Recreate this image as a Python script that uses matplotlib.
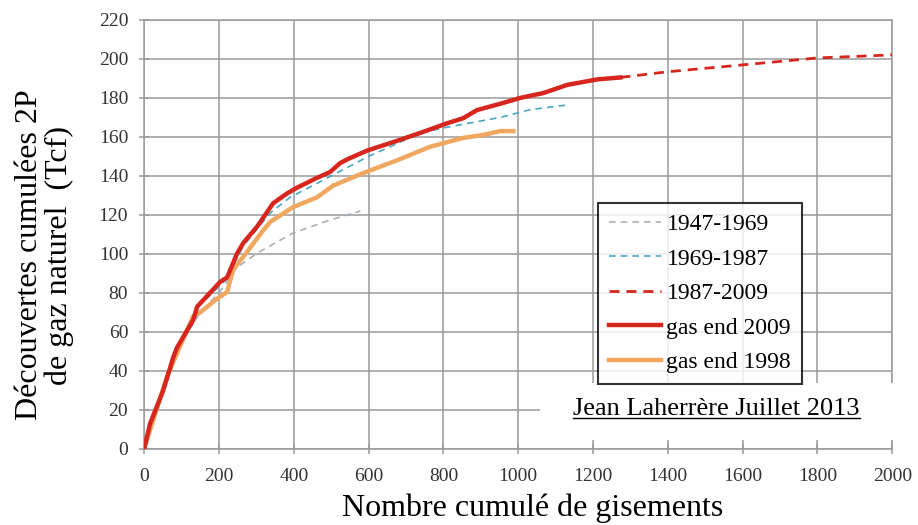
import matplotlib
matplotlib.use("Agg")
import matplotlib.pyplot as plt
from matplotlib.lines import Line2D
from matplotlib.patches import Rectangle

# cumulative discoveries (Tcf) vs cumulative number of fields
gas2009_x = [0, 16, 51, 78, 88, 131, 142, 176, 203, 222, 248, 265, 302, 345, 382, 409,
             462, 497, 524, 543, 596, 676, 746, 810, 853, 890, 952, 1005, 1067, 1131, 1211, 1273]
gas2009_y = [0, 13, 30, 47, 52, 66, 73, 80, 85.6, 88, 100, 105.6, 114, 126, 131, 134,
             139, 142, 146.6, 148.5, 153, 158, 162.6, 167, 169.6, 173.8, 177, 180, 182.5, 186.7, 189.5, 190.5]

gas1998_x = [0, 61, 88, 131, 150, 195, 222, 238, 265, 318, 337, 398, 462, 505, 586,
             676, 765, 853, 906, 952, 987]
gas1998_y = [0, 37, 49, 68, 70, 77, 80.5, 92, 98.5, 112, 116.4, 124, 129, 135, 141.5,
             148, 155, 159.5, 161, 163, 163]

fit4769_x = [0, 50, 100, 150, 200, 248, 302, 398, 497, 578]
fit4769_y = [0, 28, 55, 70, 80, 93, 100.4, 110.7, 117.4, 122]

fit6987_x = [0, 80, 140, 220, 265, 337, 390, 500, 600, 738, 810, 952, 1032, 1131]
fit6987_y = [0, 47, 72, 87, 104, 121, 129, 140, 150, 162, 165, 170, 174, 176.4]

fit8709_x = [1273, 1398, 1602, 1799, 1989, 2000]
fit8709_y = [190.5, 193.4, 197, 200.5, 202, 202.2]

xticks = list(range(0, 2001, 200))
yticks = list(range(0, 221, 20))

serif = ["Liberation Serif", "DejaVu Serif"]
plt.rcParams["font.family"] = serif

fig = plt.figure(figsize=(9.18, 5.25), dpi=100)
ax = fig.add_axes([0.157, 0.145, 0.815, 0.817])

grid_col = "#9a9a9a"
ax.plot(fit4769_x, fit4769_y, ls=(0, (4, 3)), color="#a8b0b8", lw=1.2, label="1947-1969", zorder=3)
ax.plot(fit6987_x, fit6987_y, ls=(0, (4, 3)), color="#4aa8c0", lw=1.2, label="1969-1987", zorder=3)
ax.plot(fit8709_x, fit8709_y, ls=(0, (3.6, 2.5)), color="#d7261e", lw=2.0, label="1987-2009", zorder=4)
ax.plot(gas2009_x, gas2009_y, color="#d7261e", lw=3.2, label="gas end 2009", zorder=5,
        solid_joinstyle="round")
ax.plot(gas1998_x, gas1998_y, color="#f0a860", lw=3.2, label="gas end 1998", zorder=4,
        solid_joinstyle="round")

ax.set_xlim(0, 2000)
ax.set_ylim(0, 220)
ax.set_xticks(xticks)
ax.set_yticks(yticks)
ax.grid(True, color=grid_col, lw=1.1)
ax.set_axisbelow(True)
for s in ax.spines.values():
    s.set_color(grid_col)
    s.set_linewidth(1.1)
ax.tick_params(direction="inout", length=7, width=1.1, color=grid_col,
               labelsize=14, labelcolor="#333333")
ax.tick_params(axis="x", pad=10)
ax.tick_params(axis="y", pad=8)

ax.set_xlabel("Nombre cumulé de gisements", fontsize=23)
ax.xaxis.set_label_coords(0.519, -0.104)
ax.set_ylabel("Découvertes cumulées 2P\nde gaz naturel  (Tcf)", fontsize=23, linespacing=1.0)
ax.yaxis.set_label_coords(-0.094, 0.452)

leg = ax.legend(loc="upper left", bbox_to_anchor=(598 / 918, 1 - 203 / 525),
                bbox_transform=fig.transFigure, fontsize=17, frameon=True,
                fancybox=False, edgecolor="black", handlelength=2.2, handletextpad=0.25,
                labelspacing=0.55, borderpad=0.45, borderaxespad=0)
leg.get_frame().set_linewidth(1.5)
leg.set_zorder(10)

# white band behind the author note, hiding grid and right spine
ax.add_patch(Rectangle((0.529, 0.021), 0.49, 0.133, transform=ax.transAxes,
                       facecolor="white", edgecolor="none", clip_on=False, zorder=2.6))
note = ax.text(0.765, 0.093, "Jean Laherrère Juillet 2013", transform=ax.transAxes,
               ha="center", va="center", fontsize=19, color="black", zorder=9)
fig.canvas.draw()
bb = note.get_window_extent()
inv = fig.transFigure.inverted()
(x0, y0), (x1, y1) = inv.transform([(bb.x0, bb.y0), (bb.x1, bb.y1)])
fig.add_artist(Line2D([x0, x1], [y0 + 0.003, y0 + 0.003], color="black", lw=1.0,
                      transform=fig.transFigure, zorder=11))

fig.savefig("out.png", dpi=100)
